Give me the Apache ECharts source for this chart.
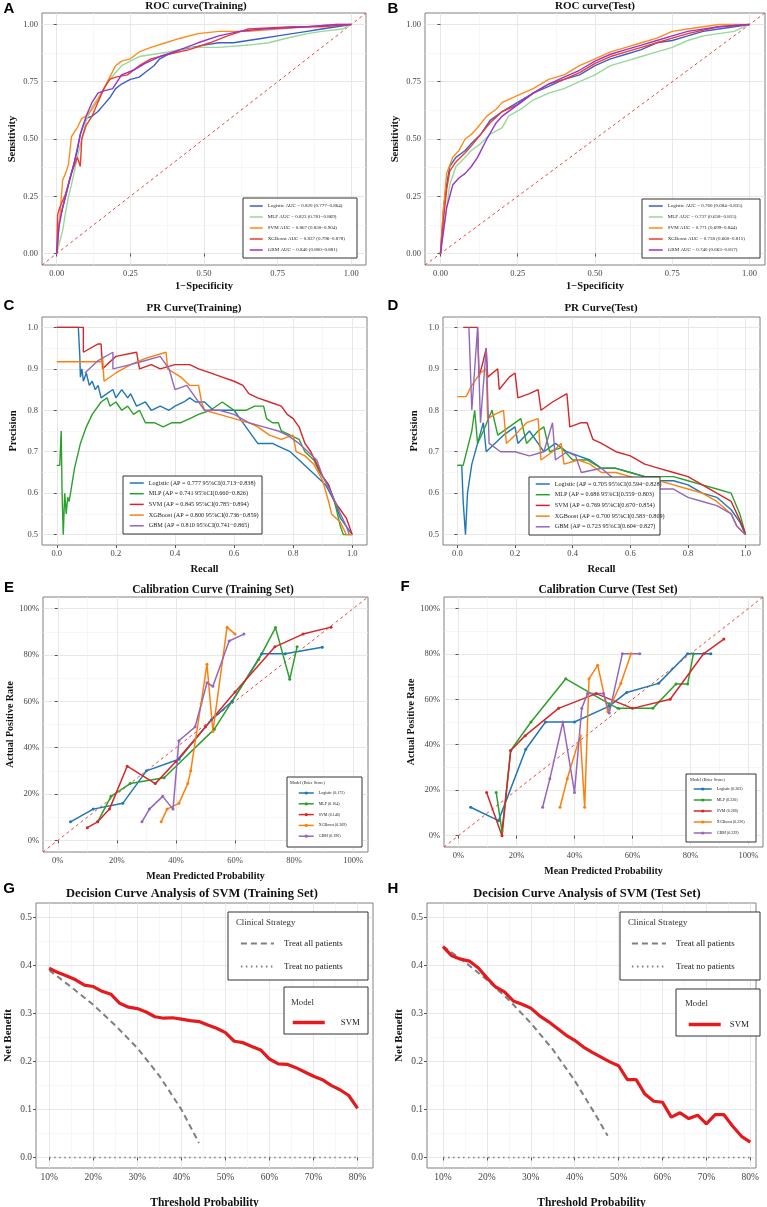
<!DOCTYPE html>
<html>
<head>
<meta charset="utf-8">
<script src="https://cdn.jsdelivr.net/npm/echarts@6/dist/echarts.min.js"></script>
<style>
html, body { margin: 0; padding: 0; background: #fff; }
#main { width: 767px; height: 1207px; }
</style>
</head>
<body>
<div id="main"></div>
<script>
// ---------- data ----------
// ROC, training set: [1-specificity, sensitivity]
const rocTrainLogistic = [[0,0],[0.005,0.1],[0.01,0.15],[0.02,0.2],[0.03,0.25],[0.045,0.33],[0.06,0.4],[0.07,0.45],[0.08,0.52],[0.09,0.56],[0.1,0.59],[0.12,0.6],[0.14,0.62],[0.16,0.65],[0.18,0.68],[0.2,0.72],[0.22,0.74],[0.25,0.76],[0.28,0.77],[0.3,0.79],[0.33,0.82],[0.35,0.85],[0.38,0.87],[0.42,0.89],[0.5,0.91],[0.55,0.92],[0.6,0.92],[0.65,0.93],[0.7,0.94],[0.75,0.95],[0.8,0.96],[0.85,0.97],[0.9,0.98],[0.95,0.99],[1,1]];
const rocTrainMLP = [[0,0],[0.01,0.05],[0.02,0.1],[0.03,0.18],[0.04,0.25],[0.05,0.3],[0.07,0.42],[0.085,0.5],[0.1,0.58],[0.12,0.64],[0.14,0.68],[0.16,0.72],[0.18,0.76],[0.2,0.79],[0.22,0.82],[0.25,0.84],[0.28,0.86],[0.33,0.87],[0.38,0.88],[0.45,0.9],[0.55,0.9],[0.65,0.91],[0.72,0.92],[0.78,0.94],[0.85,0.96],[0.9,0.97],[0.97,0.98],[1,1]];
const rocTrainSVM = [[0,0],[0.005,0.08],[0.01,0.15],[0.02,0.32],[0.03,0.35],[0.04,0.39],[0.05,0.51],[0.07,0.55],[0.085,0.59],[0.1,0.6],[0.12,0.63],[0.14,0.67],[0.16,0.72],[0.18,0.77],[0.2,0.82],[0.22,0.84],[0.25,0.85],[0.28,0.88],[0.32,0.9],[0.37,0.92],[0.42,0.94],[0.48,0.96],[0.55,0.97],[0.65,0.97],[0.75,0.98],[0.85,0.99],[0.95,1],[1,1]];
const rocTrainXGB = [[0,0],[0.003,0.17],[0.01,0.2],[0.03,0.26],[0.05,0.35],[0.07,0.42],[0.08,0.38],[0.085,0.5],[0.1,0.56],[0.12,0.6],[0.14,0.66],[0.16,0.72],[0.18,0.76],[0.2,0.77],[0.24,0.78],[0.28,0.82],[0.32,0.85],[0.38,0.87],[0.45,0.89],[0.52,0.92],[0.58,0.95],[0.65,0.98],[0.8,0.99],[0.9,0.99],[1,1]];
const rocTrainGBM = [[0,0],[0.008,0.12],[0.02,0.2],[0.04,0.3],[0.06,0.4],[0.08,0.52],[0.1,0.6],[0.12,0.66],[0.14,0.7],[0.16,0.71],[0.19,0.72],[0.22,0.78],[0.26,0.8],[0.3,0.83],[0.35,0.86],[0.42,0.89],[0.48,0.92],[0.55,0.95],[0.62,0.97],[0.7,0.98],[0.85,0.99],[0.95,1],[1,1]];
const rocTrainNames = ['Logistic AUC = 0.820 (0.777−0.864)', 'MLP AUC = 0.823 (0.781−0.869)', 'SVM AUC = 0.867 (0.830−0.904)', 'XGBoost AUC = 0.837 (0.796−0.878)', 'GBM AUC = 0.840 (0.800−0.881)'];

// ROC, test set
const rocTestLogistic = [[0,0],[0.01,0.2],[0.02,0.3],[0.03,0.38],[0.05,0.42],[0.08,0.45],[0.1,0.48],[0.13,0.52],[0.16,0.58],[0.2,0.62],[0.25,0.66],[0.3,0.7],[0.35,0.73],[0.4,0.76],[0.45,0.78],[0.5,0.82],[0.55,0.85],[0.6,0.87],[0.65,0.89],[0.7,0.92],[0.75,0.93],[0.8,0.95],[0.85,0.97],[0.9,0.98],[1,1]];
const rocTestMLP = [[0,0],[0.015,0.15],[0.03,0.3],[0.05,0.38],[0.08,0.42],[0.1,0.45],[0.13,0.48],[0.16,0.52],[0.2,0.55],[0.22,0.6],[0.26,0.63],[0.3,0.67],[0.35,0.7],[0.4,0.72],[0.45,0.75],[0.5,0.78],[0.55,0.82],[0.6,0.84],[0.65,0.86],[0.7,0.88],[0.75,0.9],[0.8,0.93],[0.85,0.95],[0.9,0.96],[0.95,0.97],[1,1]];
const rocTestSVM = [[0,0],[0.01,0.2],[0.02,0.35],[0.04,0.42],[0.06,0.45],[0.08,0.5],[0.1,0.52],[0.12,0.55],[0.15,0.6],[0.18,0.63],[0.2,0.66],[0.25,0.69],[0.3,0.72],[0.35,0.76],[0.4,0.78],[0.45,0.82],[0.5,0.85],[0.55,0.88],[0.6,0.9],[0.65,0.92],[0.7,0.94],[0.75,0.97],[0.8,0.98],[0.85,0.99],[0.9,1],[1,1]];
const rocTestXGB = [[0,0],[0.01,0.15],[0.02,0.28],[0.03,0.36],[0.05,0.4],[0.08,0.44],[0.1,0.47],[0.13,0.52],[0.16,0.57],[0.2,0.62],[0.25,0.65],[0.3,0.7],[0.35,0.74],[0.4,0.76],[0.45,0.79],[0.5,0.83],[0.55,0.86],[0.6,0.88],[0.65,0.9],[0.7,0.92],[0.75,0.94],[0.8,0.96],[0.9,0.99],[1,1]];
const rocTestGBM = [[0,0],[0.01,0.1],[0.02,0.2],[0.04,0.3],[0.06,0.33],[0.08,0.35],[0.1,0.38],[0.12,0.42],[0.15,0.5],[0.18,0.57],[0.2,0.6],[0.25,0.65],[0.3,0.7],[0.35,0.74],[0.4,0.77],[0.45,0.8],[0.5,0.84],[0.55,0.87],[0.6,0.89],[0.65,0.91],[0.7,0.93],[0.75,0.95],[0.8,0.97],[0.9,0.99],[1,1]];
const rocTestNames = ['Logistic AUC = 0.760 (0.684−0.835)', 'MLP AUC = 0.737 (0.658−0.815)', 'SVM AUC = 0.771 (0.699−0.844)', 'XGBoost AUC = 0.738 (0.660−0.815)', 'GBM AUC = 0.740 (0.663−0.817)'];

// PR, training set: [recall, precision]
const prTrainLogistic = [[0,1],[0.073,1],[0.078,0.93],[0.08,0.88],[0.085,0.9],[0.09,0.87],[0.1,0.89],[0.11,0.86],[0.12,0.87],[0.13,0.85],[0.14,0.86],[0.15,0.83],[0.17,0.84],[0.19,0.85],[0.2,0.83],[0.22,0.85],[0.24,0.83],[0.25,0.84],[0.27,0.81],[0.3,0.82],[0.32,0.8],[0.35,0.81],[0.38,0.8],[0.4,0.81],[0.43,0.82],[0.45,0.83],[0.47,0.82],[0.5,0.82],[0.53,0.8],[0.56,0.8],[0.6,0.8],[0.62,0.78],[0.64,0.76],[0.66,0.74],[0.68,0.72],[0.7,0.72],[0.73,0.72],[0.76,0.71],[0.79,0.7],[0.82,0.68],[0.85,0.66],[0.88,0.64],[0.91,0.62],[0.94,0.58],[0.96,0.54],[0.98,0.52],[1,0.5]];
const prTrainMLP = [[0,0.667],[0.01,0.667],[0.015,0.75],[0.018,0.6],[0.022,0.5],[0.027,0.6],[0.032,0.55],[0.037,0.59],[0.042,0.58],[0.06,0.66],[0.08,0.72],[0.1,0.76],[0.12,0.79],[0.15,0.82],[0.17,0.83],[0.18,0.81],[0.2,0.82],[0.22,0.8],[0.24,0.81],[0.26,0.79],[0.28,0.8],[0.3,0.77],[0.33,0.77],[0.36,0.76],[0.39,0.77],[0.42,0.77],[0.45,0.78],[0.48,0.79],[0.52,0.8],[0.56,0.82],[0.58,0.81],[0.6,0.8],[0.64,0.8],[0.67,0.81],[0.7,0.81],[0.71,0.78],[0.73,0.77],[0.75,0.77],[0.76,0.75],[0.79,0.74],[0.82,0.73],[0.84,0.7],[0.87,0.68],[0.89,0.65],[0.92,0.62],[0.94,0.58],[0.96,0.52],[0.97,0.5],[1,0.5]];
const prTrainSVM = [[0,1],[0.09,1],[0.09,0.94],[0.14,0.96],[0.15,0.96],[0.155,0.9],[0.2,0.93],[0.27,0.94],[0.28,0.9],[0.32,0.91],[0.35,0.9],[0.4,0.91],[0.45,0.91],[0.48,0.9],[0.52,0.89],[0.56,0.88],[0.6,0.87],[0.63,0.86],[0.65,0.84],[0.68,0.83],[0.72,0.82],[0.76,0.81],[0.78,0.79],[0.8,0.78],[0.82,0.76],[0.84,0.72],[0.86,0.7],[0.88,0.67],[0.9,0.64],[0.92,0.62],[0.94,0.58],[0.96,0.56],[0.98,0.54],[0.99,0.52],[1,0.5]];
const prTrainXGB = [[0,0.917],[0.15,0.917],[0.155,0.93],[0.16,0.87],[0.2,0.89],[0.25,0.91],[0.3,0.925],[0.37,0.94],[0.375,0.9],[0.42,0.88],[0.45,0.86],[0.48,0.86],[0.49,0.82],[0.5,0.8],[0.55,0.79],[0.6,0.78],[0.65,0.77],[0.68,0.76],[0.72,0.74],[0.76,0.73],[0.8,0.74],[0.81,0.7],[0.84,0.69],[0.87,0.67],[0.9,0.63],[0.92,0.58],[0.93,0.55],[0.96,0.53],[0.98,0.5],[1,0.5]];
const prTrainGBM = [[0.095,0.89],[0.14,0.92],[0.19,0.94],[0.19,0.9],[0.25,0.91],[0.3,0.92],[0.35,0.93],[0.38,0.9],[0.4,0.85],[0.44,0.86],[0.46,0.84],[0.5,0.8],[0.55,0.8],[0.6,0.79],[0.65,0.77],[0.7,0.76],[0.75,0.75],[0.78,0.74],[0.82,0.72],[0.85,0.7],[0.88,0.68],[0.9,0.64],[0.93,0.6],[0.96,0.55],[0.98,0.52],[0.99,0.5]];
const prTrainNames = ['Logistic (AP = 0.777 95%CI(0.713−0.838)', 'MLP (AP = 0.741 95%CI(0.660−0.826)', 'SVM (AP = 0.845 95%CI(0.785−0.894)', 'XGBoost (AP = 0.800 95%CI(0.736−0.859)', 'GBM (AP = 0.810 95%CI(0.741−0.865)'];

// PR, test set
const prTestLogistic = [[0,0.667],[0.015,0.667],[0.02,0.58],[0.028,0.5],[0.035,0.6],[0.05,0.67],[0.07,0.72],[0.09,0.77],[0.1,0.7],[0.13,0.72],[0.16,0.74],[0.2,0.76],[0.21,0.72],[0.25,0.75],[0.28,0.72],[0.3,0.7],[0.34,0.72],[0.38,0.7],[0.42,0.69],[0.46,0.68],[0.5,0.66],[0.55,0.66],[0.6,0.65],[0.65,0.64],[0.7,0.63],[0.75,0.63],[0.8,0.62],[0.85,0.6],[0.9,0.59],[0.95,0.56],[0.98,0.53],[1,0.5]];
const prTestMLP = [[0,0.667],[0.02,0.667],[0.05,0.75],[0.06,0.8],[0.07,0.72],[0.09,0.75],[0.12,0.8],[0.14,0.74],[0.18,0.76],[0.22,0.78],[0.24,0.72],[0.28,0.75],[0.3,0.76],[0.32,0.7],[0.36,0.71],[0.4,0.68],[0.45,0.68],[0.5,0.66],[0.55,0.66],[0.6,0.65],[0.65,0.64],[0.7,0.64],[0.75,0.64],[0.8,0.63],[0.85,0.62],[0.9,0.61],[0.95,0.6],[0.98,0.55],[1,0.5]];
const prTestSVM = [[0.02,1],[0.07,1],[0.075,0.88],[0.09,0.92],[0.1,0.95],[0.105,0.88],[0.14,0.9],[0.145,0.85],[0.18,0.88],[0.2,0.89],[0.21,0.83],[0.25,0.84],[0.28,0.85],[0.29,0.8],[0.33,0.82],[0.38,0.84],[0.39,0.76],[0.43,0.77],[0.45,0.77],[0.47,0.73],[0.5,0.72],[0.55,0.7],[0.6,0.69],[0.65,0.67],[0.7,0.66],[0.75,0.65],[0.8,0.64],[0.85,0.62],[0.9,0.6],[0.95,0.58],[0.97,0.55],[0.99,0.52],[1,0.5]];
const prTestXGB = [[0,0.833],[0.03,0.833],[0.05,0.86],[0.08,0.89],[0.1,0.9],[0.105,0.78],[0.13,0.79],[0.16,0.8],[0.17,0.72],[0.2,0.74],[0.24,0.77],[0.28,0.78],[0.29,0.68],[0.33,0.7],[0.36,0.72],[0.37,0.67],[0.42,0.68],[0.46,0.67],[0.5,0.65],[0.55,0.65],[0.6,0.64],[0.65,0.63],[0.7,0.63],[0.75,0.62],[0.8,0.61],[0.85,0.6],[0.9,0.58],[0.95,0.55],[0.97,0.52],[1,0.5]];
const prTestGBM = [[0.04,1],[0.05,0.8],[0.06,0.9],[0.07,1],[0.08,0.77],[0.1,0.95],[0.11,0.72],[0.15,0.7],[0.2,0.7],[0.25,0.69],[0.3,0.7],[0.33,0.77],[0.34,0.68],[0.38,0.7],[0.41,0.69],[0.43,0.65],[0.5,0.66],[0.55,0.63],[0.6,0.62],[0.65,0.62],[0.7,0.61],[0.75,0.61],[0.8,0.59],[0.85,0.58],[0.9,0.57],[0.95,0.55],[0.97,0.52],[1,0.5]];
const prTestNames = ['Logistic (AP = 0.705 95%CI(0.594−0.828)', 'MLP (AP = 0.686 95%CI(0.559−0.803)', 'SVM (AP = 0.769 95%CI(0.670−0.854)', 'XGBoost (AP = 0.700 95%CI(0.583−0.809)', 'GBM (AP = 0.723 95%CI(0.604−0.827)'];

// calibration, training set: [mean predicted, actual positive rate]
const calTrainLogistic = [[0.043,0.08],[0.12,0.135],[0.22,0.16],[0.30,0.30],[0.41,0.35],[0.52,0.52],[0.59,0.60],[0.69,0.805],[0.77,0.805],[0.895,0.833]];
const calTrainMLP = [[0.135,0.08],[0.18,0.19],[0.245,0.245],[0.36,0.27],[0.53,0.48],[0.68,0.78],[0.737,0.918],[0.785,0.695],[0.81,0.835]];
const calTrainSVM = [[0.10,0.055],[0.135,0.08],[0.175,0.135],[0.235,0.32],[0.33,0.245],[0.40,0.34],[0.50,0.49],[0.60,0.64],[0.735,0.835],[0.83,0.89],[0.925,0.92]];
const calTrainXGB = [[0.35,0.08],[0.37,0.135],[0.41,0.16],[0.44,0.245],[0.45,0.30],[0.485,0.59],[0.505,0.76],[0.525,0.47],[0.573,0.92],[0.60,0.89]];
const calTrainGBM = [[0.285,0.08],[0.31,0.135],[0.355,0.19],[0.39,0.135],[0.41,0.43],[0.465,0.49],[0.505,0.68],[0.525,0.665],[0.58,0.86],[0.63,0.89]];
const calTrainNames = ['Logistic (0.172)', 'MLP (0.164)', 'SVM (0.146)', 'XGBoost (0.209)', 'GBM (0.196)'];

// calibration, test set
const calTestLogistic = [[0.042,0.125],[0.138,0.066],[0.232,0.38],[0.30,0.50],[0.40,0.50],[0.52,0.57],[0.58,0.63],[0.69,0.67],[0.79,0.80],[0.87,0.80]];
const calTestMLP = [[0.13,0.19],[0.15,0.02],[0.18,0.375],[0.25,0.50],[0.37,0.69],[0.52,0.58],[0.55,0.56],[0.67,0.56],[0.75,0.667],[0.79,0.667],[0.81,0.80]];
const calTestSVM = [[0.097,0.19],[0.15,0.0],[0.18,0.375],[0.23,0.44],[0.345,0.56],[0.475,0.625],[0.60,0.56],[0.73,0.60],[0.845,0.80],[0.915,0.865]];
const calTestXGB = [[0.35,0.125],[0.375,0.25],[0.42,0.44],[0.435,0.125],[0.45,0.69],[0.48,0.75],[0.515,0.545],[0.56,0.67],[0.595,0.80]];
const calTestGBM = [[0.29,0.125],[0.315,0.25],[0.36,0.50],[0.40,0.19],[0.425,0.56],[0.445,0.625],[0.50,0.625],[0.52,0.54],[0.565,0.80],[0.625,0.80]];
const calTestNames = ['Logistic (0.203)', 'MLP (0.220)', 'SVM (0.206)', 'XGBoost (0.226)', 'GBM (0.229)'];

// decision curves
const dcaThresholds = [0.10,0.12,0.14,0.16,0.18,0.20,0.22,0.24,0.26,0.28,0.30,0.32,0.34,0.36,0.38,0.40,0.42,0.44,0.46,0.48,0.50,0.52,0.54,0.56,0.58,0.60,0.62,0.64,0.66,0.68,0.70,0.72,0.74,0.76,0.78,0.80];
const dcaTrainSVM = [0.394,0.385,0.378,0.37,0.359,0.356,0.346,0.34,0.321,0.313,0.31,0.303,0.293,0.29,0.291,0.288,0.285,0.283,0.276,0.269,0.26,0.242,0.239,0.231,0.224,0.205,0.195,0.194,0.187,0.178,0.169,0.162,0.15,0.141,0.129,0.102];
const dcaTestSVM = [0.439,0.42,0.413,0.409,0.395,0.374,0.355,0.345,0.326,0.319,0.311,0.295,0.283,0.269,0.255,0.244,0.23,0.219,0.209,0.199,0.191,0.162,0.162,0.132,0.117,0.115,0.084,0.093,0.081,0.088,0.07,0.089,0.089,0.065,0.044,0.032];
const treatAllTrainX = [0.10,0.15,0.20,0.25,0.30,0.35,0.40,0.44];
const treatAllTrainY = [0.39,0.355,0.318,0.275,0.228,0.17,0.10,0.03];
const treatAllTestX = [0.10,0.15,0.20,0.25,0.30,0.35,0.40,0.45,0.475];
const treatAllTestY = [0.44,0.407,0.37,0.328,0.28,0.225,0.16,0.085,0.045];
const treatNoneX = [0.10, 0.80];
const treatNoneY = [0, 0];

// ---------- chart ----------
const SERIF = '"Liberation Serif", "Times New Roman", serif';
const SANS = '"Liberation Sans", Arial, sans-serif';
const rocColors = ['#3a5fcd', '#98d898', '#ff8c1a', '#ee3b2b', '#9a32cd'];
const tabColors = ['#1f77b4', '#2ca02c', '#d62728', '#ff7f0e', '#9467bd'];

const zip = (xs, ys) => xs.map((x, i) => [x, ys[i]]);
const f2 = v => v.toFixed(2);
const f1 = v => v.toFixed(1);
const pct = v => Math.round(v * 100) + '%';

const option = {
    animation: false,
    backgroundColor: '#fff',
    grid: [], xAxis: [], yAxis: [], series: [], legend: [], graphic: []
};

function axis(g, c, isY) {
    return {
        gridIndex: g, type: 'value', min: c.min, max: c.max,
        position: isY ? 'left' : 'bottom',
        name: c.name, nameLocation: 'middle', nameGap: c.gap,
        nameTextStyle: { fontFamily: SERIF, fontWeight: 'bold', fontSize: c.nameSize, color: '#111' },
        axisLine: { show: false },
        axisTick: { show: true, length: 3, customValues: c.ticks, lineStyle: { color: '#555' } },
        axisLabel: { customValues: c.ticks, formatter: c.fmt, fontFamily: SERIF, fontSize: c.labelSize, color: '#444', margin: 4 },
        splitLine: { show: true, lineStyle: { color: '#e2e2e2', width: 0.8 } }
    };
}
function minorAxis(g, c, isY) {
    return {
        gridIndex: g, type: 'value', min: c.min, max: c.max,
        position: isY ? 'left' : 'bottom',
        axisLine: { show: false },
        axisTick: { show: false, customValues: c.minor },
        axisLabel: { show: false, customValues: c.minor },
        splitLine: { show: true, lineStyle: { color: '#f1f1f1', width: 0.6 } }
    };
}
function panel(g, box, xc, yc) {
    option.grid.push(Object.assign({ show: true, borderColor: '#808080', borderWidth: 1, backgroundColor: '#fff', outerBoundsMode: 'none' }, box));
    option.xAxis.push(axis(g, xc, false), minorAxis(g, xc, false));
    option.yAxis.push(axis(g, yc, true), minorAxis(g, yc, true));
}
function line(g, name, data, color, width, extra) {
    option.series.push(Object.assign({
        type: 'line', name, data, xAxisIndex: 2 * g, yAxisIndex: 2 * g,
        symbol: 'none', showSymbol: false, silent: true, z: 2,
        lineStyle: { color, width, type: 'solid' }, itemStyle: { color }
    }, extra || {}));
}
function legend(names, left, top, o) {
    option.legend.push({
        show: true, orient: 'vertical', left, top, padding: 0, z: 10,
        itemGap: o.gap, itemWidth: o.iw, itemHeight: o.ih, selectedMode: false, data: names,
        textStyle: { fontFamily: SERIF, fontSize: o.fs, lineHeight: o.ih, color: '#222', padding: [0, 0, 0, o.pad || 0] },
        itemStyle: o.marker ? {} : { opacity: 0 },
        lineStyle: { width: o.lw }
    });
}
function text(str, x, y, size, o) {
    o = o || {};
    option.graphic.push({
        type: 'text', x, y, z: 20, silent: true,
        style: { text: str, fontFamily: o.font || SERIF, fontSize: size, fontWeight: o.bold ? 'bold' : 'normal',
                 fill: o.color || '#111', align: o.align || 'center', verticalAlign: 'middle' }
    });
}
function box(x, y, w, h) {
    option.graphic.push({ type: 'rect', z: 5, silent: true, shape: { x, y, width: w, height: h },
        style: { fill: '#fff', stroke: '#333', lineWidth: 1 } });
}
function diagonal(g) {
    line(g, 'reference', [[-0.05, -0.05], [1.05, 1.05]], '#e8463c', 1, { z: 1, lineStyle: { color: '#e8463c', width: 1, type: [3, 3] } });
}

const rocAxis = n => ({ min: -0.05, max: 1.05, ticks: [0, 0.25, 0.5, 0.75, 1], minor: [0.125, 0.375, 0.625, 0.875], fmt: f2, name: n.name, gap: n.gap, nameSize: 10.5, labelSize: 8.5 });
const prX = { min: -0.05, max: 1.05, ticks: [0, 0.2, 0.4, 0.6, 0.8, 1], minor: [0.1, 0.3, 0.5, 0.7, 0.9], fmt: f1, name: 'Recall', gap: 19, nameSize: 10.5, labelSize: 8.5 };
const prY = { min: 0.475, max: 1.025, ticks: [0.5, 0.6, 0.7, 0.8, 0.9, 1], minor: [0.55, 0.65, 0.75, 0.85, 0.95], fmt: f1, name: 'Precision', gap: 23, nameSize: 10.5, labelSize: 8.5 };
const calAxis = (name, gap) => ({ min: -0.05, max: 1.05, ticks: [0, 0.2, 0.4, 0.6, 0.8, 1], minor: [0.1, 0.3, 0.5, 0.7, 0.9], fmt: pct, name, gap, nameSize: 10, labelSize: 8.5 });
const dcaX = (min, max) => ({ min, max, ticks: [0.1, 0.2, 0.3, 0.4, 0.5, 0.6, 0.7, 0.8], minor: [0.15, 0.25, 0.35, 0.45, 0.55, 0.65, 0.75], fmt: pct, name: 'Threshold Probability', gap: 29, nameSize: 11.5, labelSize: 9.5 });
const dcaY = { min: -0.022, max: 0.53, ticks: [0, 0.1, 0.2, 0.3, 0.4, 0.5], minor: [0.05, 0.15, 0.25, 0.35, 0.45], fmt: f1, name: 'Net Benefit', gap: 22, nameSize: 11, labelSize: 9.5 };

// A, B: ROC
panel(0, { left: 42, top: 13, width: 324, height: 252 }, rocAxis({ name: '1−Specificity', gap: 16 }), rocAxis({ name: 'Sensitivity', gap: 24 }));
panel(1, { left: 425, top: 13, width: 340, height: 252 }, rocAxis({ name: '1−Specificity', gap: 16 }), rocAxis({ name: 'Sensitivity', gap: 24 }));
diagonal(0); diagonal(1);
[rocTrainLogistic, rocTrainMLP, rocTrainSVM, rocTrainXGB, rocTrainGBM].forEach((d, i) => line(0, rocTrainNames[i], d, rocColors[i], 1.4));
[rocTestLogistic, rocTestMLP, rocTestSVM, rocTestXGB, rocTestGBM].forEach((d, i) => line(1, rocTestNames[i], d, rocColors[i], 1.4));

// C, D: PR
panel(2, { left: 42, top: 317, width: 325, height: 228 }, prX, prY);
panel(3, { left: 443, top: 317, width: 317, height: 228 }, prX, prY);
[prTrainLogistic, prTrainMLP, prTrainSVM, prTrainXGB, prTrainGBM].forEach((d, i) => line(2, prTrainNames[i], d, tabColors[i], 1.4));
[prTestLogistic, prTestMLP, prTestSVM, prTestXGB, prTestGBM].forEach((d, i) => line(3, prTestNames[i], d, tabColors[i], 1.4));

// E, F: calibration
panel(4, { left: 43, top: 597, width: 325, height: 255 }, calAxis('Mean Predicted Probability', 19), calAxis('Actual Positive Rate', 25));
panel(5, { left: 444, top: 597, width: 319, height: 250 }, calAxis('Mean Predicted Probability', 19), calAxis('Actual Positive Rate', 25));
diagonal(4); diagonal(5);
const calMarks = { symbol: 'circle', symbolSize: 3, showSymbol: true };
[calTrainLogistic, calTrainMLP, calTrainSVM, calTrainXGB, calTrainGBM].forEach((d, i) => line(4, calTrainNames[i], d, tabColors[i], 1.5, calMarks));
[calTestLogistic, calTestMLP, calTestSVM, calTestXGB, calTestGBM].forEach((d, i) => line(5, calTestNames[i], d, tabColors[i], 1.5, calMarks));

// G, H: decision curves
panel(6, { left: 36, top: 903, width: 337, height: 265 }, dcaX(0.07, 0.835), dcaY);
panel(7, { left: 427, top: 903, width: 329, height: 265 }, dcaX(0.0635, 0.813), dcaY);
const grey = '#7f7f7f';
[[6, treatAllTrainX, treatAllTrainY, dcaTrainSVM], [7, treatAllTestX, treatAllTestY, dcaTestSVM]].forEach(([g, ax, ay, svm]) => {
    line(g, 'Treat all patients', zip(ax, ay), grey, 2, { lineStyle: { color: grey, width: 2, type: [6, 4] } });
    line(g, 'Treat no patients', zip(treatNoneX, treatNoneY), grey, 1.5, { lineStyle: { color: grey, width: 1.5, type: [1.5, 3.5] } });
    line(g, 'SVM', zip(dcaThresholds, svm), '#e41a1c', 3.2, { z: 3 });
});

// legends and their boxes
box(243, 198, 114, 60);
legend(rocTrainNames, 249, 203, { iw: 13, ih: 6, gap: 5, fs: 5, lw: 1.5 });
box(642, 199, 118, 59);
legend(rocTestNames, 648, 203, { iw: 14, ih: 6, gap: 5, fs: 5, lw: 1.5 });
box(123, 476, 139, 58);
legend(prTrainNames, 129, 480, { iw: 14, ih: 6, gap: 4.7, fs: 6.2, lw: 1.5 });
box(529, 477, 131, 58);
legend(prTestNames, 535, 481, { iw: 14, ih: 6, gap: 4.7, fs: 6.2, lw: 1.5 });
box(287, 777, 75, 70);
text('Model (Brier Score)', 290, 782.5, 4.3, { align: 'left', color: '#222' });
legend(calTrainNames, 298, 791, { iw: 15, ih: 4, gap: 6.8, fs: 4, lw: 1.5, marker: true });
box(686, 774, 70, 68);
text('Model (Brier Score)', 690, 779.5, 4.3, { align: 'left', color: '#222' });
legend(calTestNames, 693, 787, { iw: 18, ih: 4, gap: 7, fs: 4, lw: 1.5, marker: true });

box(228, 912, 140, 68);
text('Clinical Strategy', 236, 922.5, 8.8, { align: 'left', color: '#333' });
legend(['Treat all patients', 'Treat no patients'], 240, 939, { iw: 33, ih: 8, gap: 14, fs: 8.8, lw: 1.8, pad: 5 });
box(284, 987, 84, 47);
text('Model', 291, 1002.5, 8.8, { align: 'left', color: '#333' });
legend(['SVM'], 291, 1018, { iw: 32, ih: 8, gap: 4, fs: 8.8, lw: 3.5, pad: 11 });

box(620, 912, 140, 68);
text('Clinical Strategy', 628, 922.5, 8.8, { align: 'left', color: '#333' });
legend(['Treat all patients', 'Treat no patients'], 631, 939, { iw: 34, ih: 8, gap: 14, fs: 8.8, lw: 1.8, pad: 5 });
box(676, 989, 84, 47);
text('Model', 685, 1004, 8.8, { align: 'left', color: '#333' });
legend(['SVM'], 687, 1020, { iw: 32, ih: 8, gap: 4, fs: 8.8, lw: 3.5, pad: 4 });

// panel titles and letters
text('ROC curve(Training)', 196, 6, 11, { bold: true });
text('ROC curve(Test)', 595, 6, 11, { bold: true });
text('PR Curve(Training)', 194, 308, 11, { bold: true });
text('PR Curve(Test)', 601, 308, 11, { bold: true });
text('Calibration Curve (Training Set)', 213, 590, 11.5, { bold: true });
text('Calibration Curve (Test Set)', 608, 590, 11.5, { bold: true });
text('Decision Curve Analysis of SVM (Training Set)', 192, 894, 12.5, { bold: true });
text('Decision Curve Analysis of SVM (Test Set)', 587, 894, 12.5, { bold: true });
[['A', 9, 9], ['B', 393, 9], ['C', 9, 306], ['D', 393, 306], ['E', 9, 588], ['F', 405, 587], ['G', 9, 889], ['H', 393, 889]]
    .forEach(([l, x, y]) => text(l, x, y, 15, { bold: true, font: SANS, color: '#000' }));

const chart = echarts.init(document.getElementById('main'), null, { renderer: 'canvas' });
chart.setOption(option);
</script>
</body>
</html>
